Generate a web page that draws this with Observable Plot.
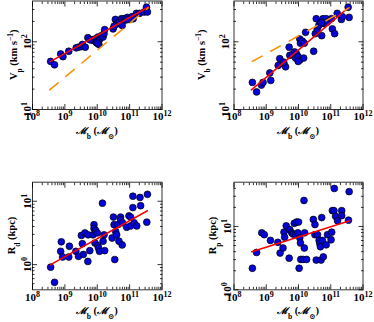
<!DOCTYPE html>
<html><head><meta charset="utf-8">
<script src="https://cdn.jsdelivr.net/npm/d3@7"></script>
<script src="https://cdn.jsdelivr.net/npm/@observablehq/plot@0.6"></script>
<style>
body{margin:0;background:#fff;}
#wrap{position:relative;width:374px;height:322px;overflow:hidden;}
#wrap svg{position:absolute;}
</style></head><body><div id="wrap"></div>
<script>
// ---- data (log10 values) ----
const logMb_p = [8.56,8.68,8.87,8.94,9.12,9.35,9.42,9.51,9.54,9.63,9.71,9.82,9.87,9.92,9.97,10.02,10.07,10.05,10.13,10.18,10.21,10.23,10.49,10.56,10.59,10.64,10.69,10.75,10.77,10.83,10.87,10.93,11.00,11.07,11.11,11.21,11.31,11.45,11.52,11.55,10.52,10.95,10.00,9.77];
const logVp   = [1.71,1.66,1.82,1.78,1.86,1.91,1.92,1.93,1.96,1.92,2.06,2.03,2.02,2.04,1.99,2.07,2.03,1.96,2.09,2.07,2.12,2.18,2.19,2.33,2.26,2.28,2.30,2.34,2.24,2.34,2.32,2.36,2.33,2.37,2.34,2.42,2.42,2.44,2.51,2.44,2.23,2.33,1.98,2.03];

const logMb_b = [8.57,8.70,8.85,8.90,9.11,9.14,9.37,9.42,9.55,9.60,9.54,9.71,9.73,9.81,9.88,9.94,9.91,9.99,10.04,10.16,9.99,10.04,10.06,10.12,10.18,10.22,10.47,10.52,10.55,10.58,10.63,10.68,10.72,10.76,10.78,10.86,10.89,11.02,11.05,11.12,11.20,11.33,11.36,11.54,11.57,10.71];
const logVb   = [1.40,1.26,1.36,1.40,1.54,1.43,1.65,1.75,1.67,1.63,1.70,1.92,1.80,1.81,1.85,1.82,1.76,1.78,1.73,1.76,1.71,2.04,1.98,2.01,1.98,2.14,1.86,2.12,2.34,2.18,2.24,2.29,2.09,2.34,2.27,2.34,2.29,2.34,2.19,2.12,2.42,2.33,2.37,2.51,2.36,2.28];

const logMb_d = [8.56,8.68,8.89,8.87,8.93,9.14,9.12,9.34,9.42,9.51,9.54,9.57,9.62,9.71,9.72,9.77,9.87,9.90,9.90,9.95,9.93,10.00,10.02,10.04,10.07,10.16,10.18,10.21,10.23,10.46,10.50,10.52,10.54,10.57,10.60,10.64,10.67,10.72,10.72,10.77,10.78,10.91,10.98,11.03,11.03,11.10,11.10,11.14,11.22,11.32,11.34,11.53,11.55];
const logRd   = [-0.04,-0.28,0.36,0.21,0.12,0.29,0.12,0.21,0.13,0.46,0.33,0.16,0.50,0.05,0.47,0.22,0.47,0.63,0.57,0.54,0.34,0.50,0.30,0.26,0.21,0.97,0.37,0.47,0.22,0.42,0.75,0.63,0.08,0.52,0.47,0.63,0.37,0.75,0.71,0.31,0.66,0.59,0.77,0.75,0.61,1.08,0.90,0.66,0.61,1.06,0.93,0.67,1.11];

const logMb_r = [8.57,8.70,8.86,8.94,9.13,9.36,9.43,9.52,9.55,9.57,9.62,9.71,9.73,9.79,9.83,9.87,9.91,9.94,9.98,10.00,10.02,10.04,10.06,10.07,10.17,10.18,10.19,10.14,10.25,10.46,10.51,10.51,10.55,10.59,10.64,10.66,10.68,10.70,10.72,10.74,10.77,10.86,10.90,11.01,11.03,11.05,11.10,11.11,11.15,11.21,11.34,11.34,11.55,11.57];
const logRp   = [0.34,0.59,0.90,0.87,0.78,0.75,0.58,0.66,0.91,0.83,1.01,0.50,0.95,0.90,0.88,1.05,0.87,1.07,0.90,1.07,0.34,0.82,0.74,0.48,1.41,0.66,0.90,0.48,0.48,1.11,1.03,0.87,0.47,0.87,0.78,0.73,0.68,0.47,1.14,0.78,0.52,0.71,0.87,0.79,0.91,1.25,1.25,1.60,1.16,1.09,1.25,1.17,1.10,1.55];

// fitted relations (endpoints, log10)
const fitVpX = [8.56, 11.57], fitVpY = [1.71, 2.51];
const dashVpX = [8.53, 11.57], dashVpY = [1.29, 2.50];
const fitVbX = [8.54, 11.54], fitVbY = [1.29, 2.50];
const dashVbX = [8.57, 11.57], dashVbY = [1.71, 2.50];
const fitRdX = [8.56, 11.55], fitRdY = [0.00, 0.85];
const fitRpX = [8.55, 11.59], fitRpY = [0.60, 1.09];

// ticks
const xMajor = [1e8, 1e9, 1e10, 1e11, 1e12];
const vMajor = [10, 100];
const rdMajor = [1, 10];
const rpMajor = [1, 10];

function minorTicks(lo, hi) {
  const out = [];
  for (let e = Math.floor(Math.log10(lo)); e <= Math.ceil(Math.log10(hi)); e++)
    for (let k = 2; k <= 9; k++) { const v = k * 10 ** e; if (v > lo * 1.0001 && v < hi * 0.9999) out.push(v); }
  return out;
}
const FONT = "'Liberation Serif', 'DejaVu Serif', serif";
const pairs = (xs, ys) => xs.map((m, i) => ({x: 10 ** m, y: 10 ** ys[i]}));
const expFmt = d => "10^" + Math.round(Math.log10(d));

const panels = [
  {left: 0, top: 0, mL: 32, mR: 25.5, mT: 0.5, mB: 52, xs: logMb_p, ys: logVp, yDomain: [10, 400], yMajor: vMajor,
   fit: [fitVpX, fitVpY], dash: [dashVpX, dashVpY], yPad: 5, yTitleX: 13,
   yTitle: [{t: "V"}, {t: "p", sub: 1}, {t: " (km s"}, {t: "−1", sup: 1}, {t: ")"}]},
  {left: 187, top: 0, mL: 46.5, mR: 11.5, mT: 0.5, mB: 52, xs: logMb_b, ys: logVb, yDomain: [10, 400], yMajor: vMajor,
   fit: [fitVbX, fitVbY], dash: [dashVbX, dashVbY], yPad: 9, yTitleX: 14,
   yTitle: [{t: "V"}, {t: "b", sub: 1}, {t: " (km s"}, {t: "−1", sup: 1}, {t: ")"}]},
  {left: 0, top: 161, mL: 32, mR: 25.5, mT: 20.7, mB: 32.7, xs: logMb_d, ys: logRd, yDomain: [0.4, 20], yMajor: rdMajor,
   fit: [fitRdX, fitRdY], dash: null, yPad: 5, yTitleX: 11,
   yTitle: [{t: "R"}, {t: "d", sub: 1}, {t: " (kpc)"}]},
  {left: 187, top: 161, mL: 46.5, mR: 11.5, mT: 20.7, mB: 32.7, xs: logMb_r, ys: logRp, yDomain: [1, 50], yMajor: rpMajor,
   fit: [fitRpX, fitRpY], dash: null, yPad: 6.5, yTitleX: 25.5,
   yTitle: [{t: "R"}, {t: "p", sub: 1}, {t: " (kpc)"}]}
];

const xTitle = [{t: "ℳ", it: 1}, {t: "b", sub: 1}, {t: " ("}, {t: "ℳ", it: 1}, {t: "⊙", sub: 1}, {t: ")"}];

function addText(svg, x, y, parts, rotate) {
  const t = d3.select(svg).append("text")
    .attr("transform", `translate(${x},${y})` + (rotate ? ` rotate(${rotate})` : ""))
    .attr("text-anchor", "middle").attr("dy", "0.35em")
    .attr("font-family", FONT).attr("font-size", 10.5).attr("font-weight", 600)
    .attr("fill", "#000");
  for (const p of parts) {
    const s = t.append("tspan").text(p.t);
    if (p.sub) s.attr("font-size", 7.5).attr("baseline-shift", "sub");
    if (p.sup) s.attr("font-size", 7.5).attr("baseline-shift", "super");
    if (p.it) s.attr("font-family", "'DejaVu Serif', serif").attr("font-style", "italic").attr("font-size", 9.5);
  }
}

const W = 187, H = 161;
for (const c of panels) {
  const pts = pairs(c.xs, c.ys);
  const fit = pairs(c.fit[0], c.fit[1]);
  const dash = c.dash ? pairs(c.dash[0], c.dash[1]) : null;
  const xMinor = minorTicks(1e8, 1e12);
  const yMinor = minorTicks(c.yDomain[0], c.yDomain[1]);
  const tk = {tickFormat: () => "", label: null, strokeWidth: 0.8};
  const svg = Plot.plot({
    width: W, height: H,
    marginLeft: c.mL, marginRight: c.mR, marginTop: c.mT, marginBottom: c.mB,
    style: {fontFamily: FONT, fontSize: "11px", fontWeight: 600, color: "#000", background: "transparent", overflow: "visible"},
    x: {type: "log", domain: [1e8, 1e12]},
    y: {type: "log", domain: c.yDomain},
    marks: [
      Plot.dot(pts, {x: "x", y: "y", r: 3.4, fill: "#0505d8", stroke: "#000", strokeWidth: 0.7}),
      Plot.line(fit, {x: "x", y: "y", stroke: "#ff0000", strokeWidth: 1.5}),
      dash ? Plot.line(dash, {x: "x", y: "y", stroke: "#ff8c00", strokeWidth: 1.5, strokeDasharray: "11,10"}) : null,
      Plot.frame({stroke: "#333", strokeWidth: 1}),
      Plot.axisX({anchor: "bottom", ticks: xMajor, tickSize: -5, ...tk}),
      Plot.axisX({anchor: "bottom", ticks: xMinor, tickSize: -2.5, ...tk}),
      Plot.axisX({anchor: "top", ticks: xMajor, tickSize: -5, ...tk}),
      Plot.axisX({anchor: "top", ticks: xMinor, tickSize: -2.5, ...tk}),
      Plot.axisY({anchor: "left", ticks: c.yMajor, tickSize: -5, ...tk}),
      Plot.axisY({anchor: "left", ticks: yMinor, tickSize: -2.5, ...tk}),
      Plot.axisY({anchor: "right", ticks: c.yMajor, tickSize: -5, ...tk}),
      Plot.axisY({anchor: "right", ticks: yMinor, tickSize: -2.5, ...tk}),
      Plot.axisX({anchor: "bottom", ticks: xMajor, tickSize: 0, tickPadding: 3, tickFormat: expFmt, label: null}),
      Plot.axisY({anchor: "left", ticks: c.yMajor, tickSize: 0, tickPadding: c.yPad, tickRotate: -90,
                  textAnchor: "middle", lineAnchor: "middle", tickFormat: expFmt, label: null})
    ]
  });
  svg.style.left = c.left + "px";
  svg.style.top = c.top + "px";
  // render exponents as superscripts
  d3.select(svg).selectAll("text").each(function () {
    const m = /^10\^(-?\d+)$/.exec(this.textContent);
    if (!m) return;
    const sel = d3.select(this);
    sel.text("10");
    sel.append("tspan").attr("font-size", "8px").attr("baseline-shift", "super").text(m[1]);
  });
  const fx = (c.mL + (W - c.mR)) / 2;
  const fy = (c.mT + (H - c.mB)) / 2;
  addText(svg, c.yTitleX, fy, c.yTitle, -90);
  addText(svg, fx, H - c.mB + 21.5, xTitle, 0);
  document.getElementById("wrap").appendChild(svg);
}
</script></body></html>
